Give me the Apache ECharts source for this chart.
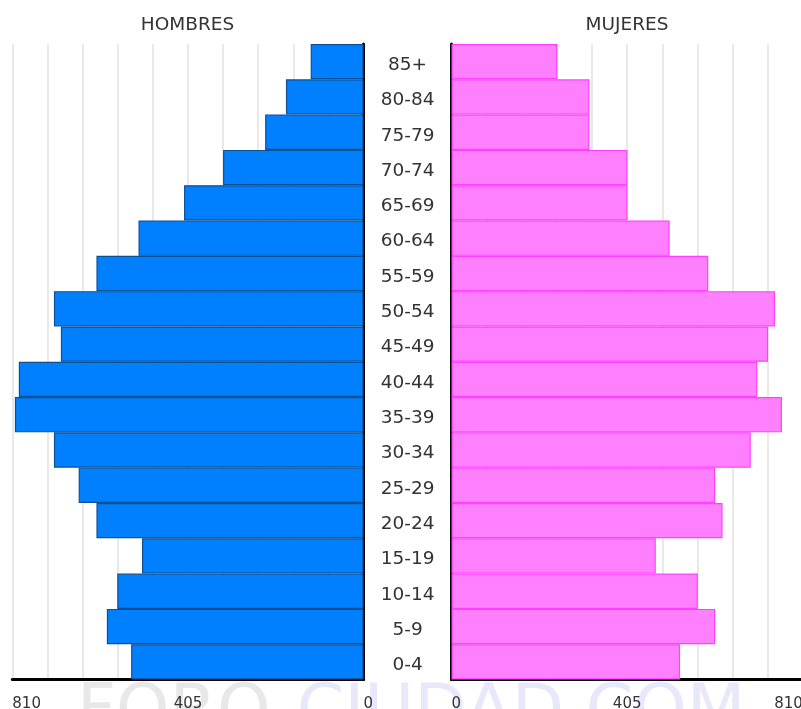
<!DOCTYPE html>
<html>
<head>
<meta charset="utf-8">
<script src="https://cdn.jsdelivr.net/npm/echarts@6/dist/echarts.min.js"></script>
<style>
html,body{margin:0;padding:0;background:#fff;}
#chart{width:801px;height:709px;}
</style>
</head>
<body>
<div id="chart"></div>
<script>
const categories = ['0-4','5-9','10-14','15-19','20-24','25-29','30-34','35-39','40-44','45-49','50-54','55-59','60-64','65-69','70-74','75-79','80-84','85+'];
const hombres = [536, 592, 568, 511, 616, 657, 714, 804, 795, 698, 714, 616, 519, 414, 324, 227, 179, 122];
const mujeres = [527, 608, 568, 471, 625, 608, 690, 762, 705, 730, 746, 592, 503, 406, 406, 318, 318, 244];
const titles = ['HOMBRES', 'MUJERES'];
const axisMax = 810;
const axisStep = 81;
const labeledTicks = [0, 405, 810];

const FONT = 'DejaVu Sans';
const chart = echarts.init(document.getElementById('chart'), null, {renderer: 'canvas'});

const tickFmt = v => labeledTicks.indexOf(v) >= 0 ? String(v) : '';

const xCommon = {
  type: 'value', min: 0, max: axisMax, interval: axisStep,
  axisLine: {show: true, onZero: false, lineStyle: {color: '#000', width: 3}},
  axisTick: {show: false},
  splitLine: {show: true, lineStyle: {color: '#e2e2e2', width: 1.5}},
  axisLabel: {formatter: tickFmt, fontFamily: FONT, fontSize: 15, color: '#333', margin: 17}
};

chart.setOption({
  animation: false,
  backgroundColor: '#fff',
  graphic: [
    {
      type: 'text', left: 77, top: 680, z: -10, silent: true,
      style: {
        text: '{a|FORO-}{b|CIUDAD.COM}',
        rich: {
          a: {fontFamily: FONT, fontSize: 68, fill: '#e8e8e8'},
          b: {fontFamily: FONT, fontSize: 68, fill: '#e8e8fb'}
        }
      }
    },
    {type: 'text', x: 187.5, y: 25.5, silent: true,
     style: {text: titles[0], fontFamily: FONT, fontSize: 18.5, fill: '#333', align: 'center', verticalAlign: 'middle'}},
    {type: 'text', x: 627, y: 25.5, silent: true,
     style: {text: titles[1], fontFamily: FONT, fontSize: 18.5, fill: '#333', align: 'center', verticalAlign: 'middle'}}
  ],
  grid: [
    {left: 12.3, width: 351.3, top: 44, bottom: 29.5, outerBoundsMode: 'none'},
    {left: 451.5, width: 351.3, top: 44, bottom: 29.5, outerBoundsMode: 'none'}
  ],
  xAxis: [
    Object.assign({}, xCommon, {gridIndex: 0, inverse: true,
      axisLabel: Object.assign({}, xCommon.axisLabel, {alignMinLabel: 'left', alignMaxLabel: 'left'})}),
    Object.assign({}, xCommon, {gridIndex: 1,
      axisLabel: Object.assign({}, xCommon.axisLabel, {alignMinLabel: 'left', alignMaxLabel: 'right'})})
  ],
  yAxis: [
    {type: 'category', gridIndex: 0, data: categories, position: 'right',
     axisLine: {show: true, lineStyle: {color: '#000', width: 3}},
     axisTick: {show: false}, splitLine: {show: false},
     axisLabel: {align: 'center', margin: 44, formatter: v => '{v|' + v + '}',
       rich: {v: {fontFamily: FONT, fontSize: 18.5, color: '#333', padding: [7, 0, 0, 0]}}}},
    {type: 'category', gridIndex: 1, data: categories, position: 'left',
     axisLine: {show: true, lineStyle: {color: '#000', width: 3}},
     axisTick: {show: false}, splitLine: {show: false},
     axisLabel: {show: false}}
  ],
  series: [
    {type: 'bar', xAxisIndex: 0, yAxisIndex: 0, data: hombres, barWidth: '100%',
     itemStyle: {color: '#0080ff', borderColor: '#0e4f94', borderWidth: 1.2}},
    {type: 'bar', xAxisIndex: 1, yAxisIndex: 1, data: mujeres, barWidth: '100%',
     itemStyle: {color: '#ff80ff', borderColor: '#ff40ff', borderWidth: 1.2}}
  ]
});
</script>
</body>
</html>
